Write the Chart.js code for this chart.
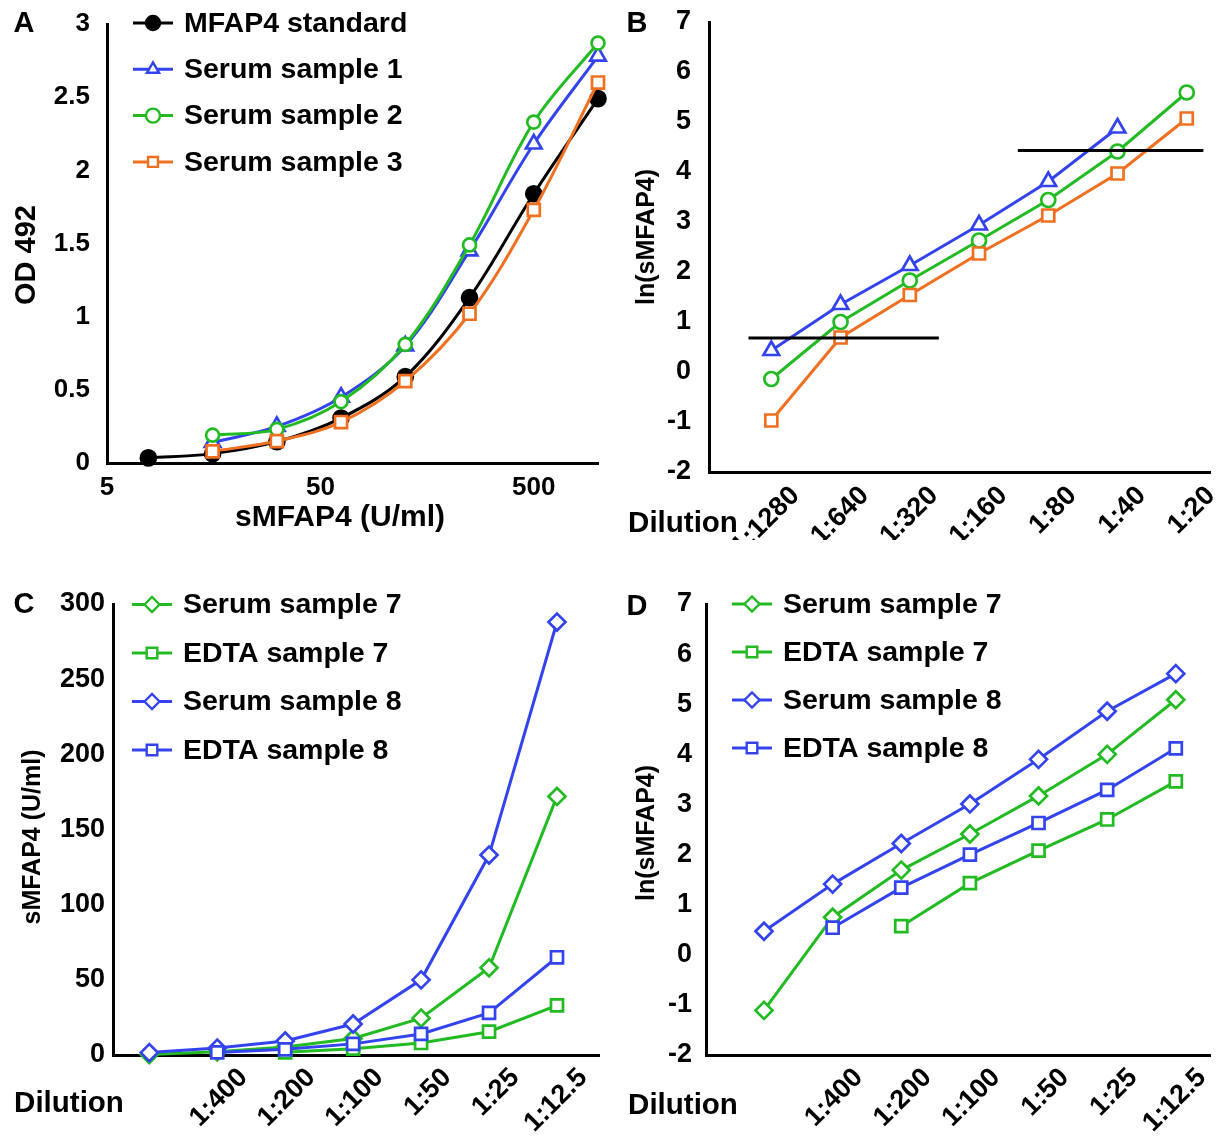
<!DOCTYPE html>
<html><head><meta charset="utf-8">
<script src="https://cdn.jsdelivr.net/npm/chart.js@4.4.1/dist/chart.umd.min.js"></script>
<style>
html,body{margin:0;padding:0;background:#fff;}
body{width:1222px;height:1141px;position:relative;overflow:hidden;font-family:"Liberation Sans",Arial,sans-serif;}
.cv{position:absolute;}
.t{position:absolute;font-weight:bold;color:#000;white-space:nowrap;line-height:1;transform:translate(-50%,-50%);}
.r{transform:translate(-50%,-50%) rotate(-90deg);}
</style></head><body>
<div class="cv" style="left:0;top:0"><canvas id="cA" width="611" height="540"></canvas></div>
<div class="cv" style="left:611px;top:0"><canvas id="cB" width="611" height="540"></canvas></div>
<div class="cv" style="left:0;top:580px"><canvas id="cC" width="611" height="561"></canvas></div>
<div class="cv" style="left:611px;top:580px"><canvas id="cD" width="611" height="561"></canvas></div>

<div class="t" style="left:24px;top:22px;font-size:29px">A</div>
<div class="t" style="left:637px;top:22px;font-size:29px">B</div>
<div class="t" style="left:24px;top:603px;font-size:29px">C</div>
<div class="t" style="left:637px;top:605px;font-size:29px">D</div>
<div class="t r" style="left:25px;top:255px;font-size:29px">OD 492</div>
<div class="t" style="left:340px;top:516px;font-size:30px">sMFAP4 (U/ml)</div>
<div class="t r" style="left:645px;top:237px;font-size:25px">ln(sMFAP4)</div>
<div class="t" style="left:683px;top:522px;font-size:29.5px">Dilution</div>
<div class="t r" style="left:31px;top:837px;font-size:25px">sMFAP4 (U/ml)</div>
<div class="t" style="left:69px;top:1102px;font-size:29.5px">Dilution</div>
<div class="t r" style="left:645px;top:833px;font-size:25px">ln(sMFAP4)</div>
<div class="t" style="left:683px;top:1104px;font-size:29.5px">Dilution</div>

<script>
// ---------- DATA ----------
// Panel A: OD 492 vs sMFAP4 concentration (U/ml)
const stdConc = [7.8125, 15.625, 31.25, 62.5, 125, 250, 500, 1000];
const stdOD = [0.035, 0.064, 0.146, 0.307, 0.59, 1.13, 1.84, 2.49];
const sampleConc = [15.625, 31.25, 62.5, 125, 250, 500, 1000];
const serum1OD = [0.14, 0.25, 0.45, 0.80, 1.45, 2.18, 2.78];
const serum2OD = [0.19, 0.23, 0.42, 0.81, 1.49, 2.33, 2.87];
const serum3OD = [0.08, 0.15, 0.28, 0.56, 1.02, 1.73, 2.60];
const ticksA = [5, 50, 500];

// Panel B: ln(sMFAP4) vs dilution
const dilutionsB = ['1:1280', '1:640', '1:320', '1:160', '1:80', '1:40', '1:20'];
const serum4Ln = [0.43, 1.35, 2.13, 2.94, 3.81, 4.88, null];
const serum5Ln = [-0.14, 1.0, 1.83, 2.63, 3.44, 4.41, 5.59];
const serum6Ln = [-0.97, 0.69, 1.54, 2.37, 3.13, 3.97, 5.07];
const lowLimitX = [-0.33, 2.42];
const lowLimitY = [0.68, 0.68];
const highLimitX = [3.56, 6.24];
const highLimitY = [4.43, 4.43];

// Panel C: sMFAP4 (U/ml) vs dilution
const dilutionsCD = ['', '1:400', '1:200', '1:100', '1:50', '1:25', '1:12.5'];
const serum7C = [0.3, 2.1, 5.4, 11, 24.5, 58, 172];
const edta7C = [null, null, 1.8, 4.2, 8, 15.5, 33];
const serum8C = [1.6, 4.6, 9.3, 20.6, 50, 133, 288];
const edta8C = [null, 1.7, 3.8, 7.4, 14, 28, 65];

// Panel D: ln(sMFAP4) vs dilution
const serum7D = [-1.11, 0.75, 1.69, 2.41, 3.17, 4.0, 5.09];
const edta7D = [null, null, 0.57, 1.43, 2.08, 2.70, 3.46];
const serum8D = [0.47, 1.41, 2.22, 3.01, 3.90, 4.86, 5.61];
const edta8D = [null, 0.54, 1.34, 2.0, 2.63, 3.29, 4.12];

// ---------- STYLE ----------
const FONT = '"Liberation Sans", Arial, sans-serif';
const BLACK = '#000000', BLUE = '#3344EE', GREEN = '#22BB22', ORANGE = '#F07020';
const LW = 3;

function xy(xs, ys) { const o = []; xs.forEach((x, i) => { if (ys[i] !== null && ys[i] !== undefined) o.push({x: x, y: ys[i]}); }); return o; }
function idx(ys) { return xy(ys.map((_, i) => i), ys); }

function series(label, data, color, style, radius, fill, tension) {
  return { label, data, borderColor: color, backgroundColor: color, borderWidth: LW,
    pointStyle: style, pointRadius: radius, pointHoverRadius: radius, pointBorderWidth: 2.7,
    pointBorderColor: color, pointBackgroundColor: fill || '#ffffff',
    tension: tension || 0, clip: false, fill: false };
}
function refLine(data) {
  return { label: '', data, borderColor: BLACK, borderWidth: LW, pointRadius: 0, clip: false, fill: false, noLegend: true };
}

function drawMarker(ctx, style, x, y, r) {
  ctx.beginPath();
  if (style === 'circle') { ctx.arc(x, y, r, 0, Math.PI * 2); }
  else if (style === 'triangle') {
    for (let k = 0; k < 3; k++) { const a = -Math.PI / 2 + k * 2 * Math.PI / 3; const px = x + Math.cos(a) * r, py = y + Math.sin(a) * r; k ? ctx.lineTo(px, py) : ctx.moveTo(px, py); }
    ctx.closePath();
  } else if (style === 'rect') { const s = Math.SQRT1_2 * r; ctx.rect(x - s, y - s, 2 * s, 2 * s); }
  else if (style === 'rectRot') { ctx.moveTo(x - r, y); ctx.lineTo(x, y - r); ctx.lineTo(x + r, y); ctx.lineTo(x, y + r); ctx.closePath(); }
}

const legendPlugin = {
  id: 'panelLegend',
  afterDraw(chart, args, opts) {
    const ctx = chart.ctx;
    ctx.save();
    let row = 0;
    chart.data.datasets.forEach(ds => {
      if (ds.noLegend) return;
      const y = opts.y0 + row * opts.dy;
      const cx = opts.x;
      ctx.strokeStyle = ds.borderColor; ctx.lineWidth = LW;
      ctx.beginPath(); ctx.moveTo(cx - 20, y); ctx.lineTo(cx + 20, y); ctx.stroke();
      drawMarker(ctx, ds.pointStyle, cx, y, opts.r || ds.pointRadius);
      ctx.fillStyle = ds.pointBackgroundColor; ctx.fill();
      ctx.lineWidth = 2.4; ctx.strokeStyle = ds.borderColor; ctx.stroke();
      ctx.fillStyle = '#000'; ctx.font = 'bold 28.5px ' + FONT; ctx.textBaseline = 'middle'; ctx.textAlign = 'left';
      ctx.fillText(ds.label, cx + 31, y + 1);
      row++;
    });
    ctx.restore();
  }
};

function yAxis(min, max, step, pad, width, size) {
  return { type: 'linear', min, max,
    ticks: { stepSize: step, padding: pad, color: '#000', font: { size, weight: 'bold', family: FONT }, callback: v => String(v) },
    grid: { display: false, drawTicks: false }, border: { display: true, color: '#000', width: 3 },
    afterFit(s) { s.width = width; s.paddingTop = 0; s.paddingBottom = 0; } };
}
function xCat(min, max, labels, height, size, offset, pad) {
  return { type: 'linear', min, max,
    afterBuildTicks(s) { s.ticks = labels.map((_, i) => ({ value: i })); },
    ticks: { autoSkip: false, minRotation: 45, maxRotation: 45, labelOffset: offset, padding: pad,
      color: '#000', font: { size, weight: 'bold', family: FONT }, callback: (v) => labels[v] !== undefined ? labels[v] : '' },
    grid: { display: false, drawTicks: false }, border: { display: true, color: '#000', width: 3 },
    afterFit(s) { s.height = height; s.paddingLeft = 0; s.paddingRight = 0; } };
}

function make(id, datasets, scales, padding, legend) {
  return new Chart(document.getElementById(id), {
    type: 'line',
    data: { datasets },
    options: { responsive: false, animation: false, events: [],
      layout: { padding },
      plugins: { legend: { display: false }, tooltip: { enabled: false }, panelLegend: legend },
      scales },
    plugins: [legendPlugin]
  });
}

// ---------- PANEL A ----------
const dsA = [
  series('MFAP4 standard', xy(stdConc, stdOD), BLACK, 'circle', 7.5, BLACK, 0.35),
  series('Serum sample 1', xy(sampleConc, serum1OD), BLUE, 'triangle', 9, null, 0.35),
  series('Serum sample 2', xy(sampleConc, serum2OD), GREEN, 'circle', 6.5, null, 0.35),
  series('Serum sample 3', xy(sampleConc, serum3OD), ORANGE, 'rect', 8.5, null, 0.35)
];
dsA.forEach((d, i) => d.order = dsA.length - i);
make('cA', dsA, {
  x: { type: 'logarithmic', min: 5, max: 1000,
    afterBuildTicks(s) { s.ticks = ticksA.map(v => ({ value: v })); },
    ticks: { padding: 9, color: '#000', font: { size: 26, weight: 'bold', family: FONT }, callback: v => String(v), autoSkip: false, maxRotation: 0 },
    grid: { display: false, drawTicks: false }, border: { display: true, color: '#000', width: 3 },
    afterFit(s) { s.height = 77; s.paddingLeft = 0; s.paddingRight = 0; } },
  y: yAxis(0, 3, 0.5, 17, 107, 26)
}, { left: 0, top: 24, right: 13, bottom: 0 }, { x: 153, y0: 23, dy: 46.3, r: 7 });

// ---------- PANEL B ----------
const dsB = [
  series('Serum sample 4', idx(serum4Ln), BLUE, 'triangle', 9),
  series('Serum sample 5', idx(serum5Ln), GREEN, 'circle', 7),
  series('Serum sample 6', idx(serum6Ln), ORANGE, 'rect', 8.5),
  refLine(xy(lowLimitX, lowLimitY)),
  refLine(xy(highLimitX, highLimitY))
];
dsB.forEach((d, i) => d.order = dsB.length - i);
make('cB', dsB, {
  x: xCat(-0.9, 6.34, dilutionsB, 68, 27, 24, 8),
  y: yAxis(-2, 7, 1, 18, 98, 27)
}, { left: 0, top: 22, right: 2, bottom: 0 }, { x: 752, y0: 20.5, dy: 47.5, r: 7 });

// ---------- PANEL C ----------
const dsC = [
  series('Serum sample 7', idx(serum7C), GREEN, 'rectRot', 8.5),
  series('EDTA sample 7', idx(edta7C), GREEN, 'rect', 8.5),
  series('Serum sample 8', idx(serum8C), BLUE, 'rectRot', 8.5),
  series('EDTA sample 8', idx(edta8C), BLUE, 'rect', 8.5)
];
dsC.forEach((d, i) => d.order = dsC.length - i);
make('cC', dsC, {
  x: xCat(-0.534, 6.63, dilutionsCD, 86, 27, 26, 7),
  y: yAxis(0, 300, 50, 8, 113, 27)
}, { left: 0, top: 24, right: 2, bottom: 0 }, { x: 152, y0: 24.5, dy: 48.5, r: 7.5 });

// ---------- PANEL D ----------
const dsD = [
  series('Serum sample 7', idx(serum7D), GREEN, 'rectRot', 8.5),
  series('EDTA sample 7', idx(edta7D), GREEN, 'rect', 8.5),
  series('Serum sample 8', idx(serum8D), BLUE, 'rectRot', 8.5),
  series('EDTA sample 8', idx(edta8D), BLUE, 'rect', 8.5)
];
dsD.forEach((d, i) => d.order = dsD.length - i);
make('cD', dsD, {
  x: xCat(-0.845, 6.51, dilutionsCD, 86, 27, 26, 7),
  y: yAxis(-2, 7, 1, 14, 95, 27)
}, { left: 0, top: 24, right: 11, bottom: 0 }, { x: 141, y0: 24, dy: 48, r: 7.5 });
</script>
</body></html>
